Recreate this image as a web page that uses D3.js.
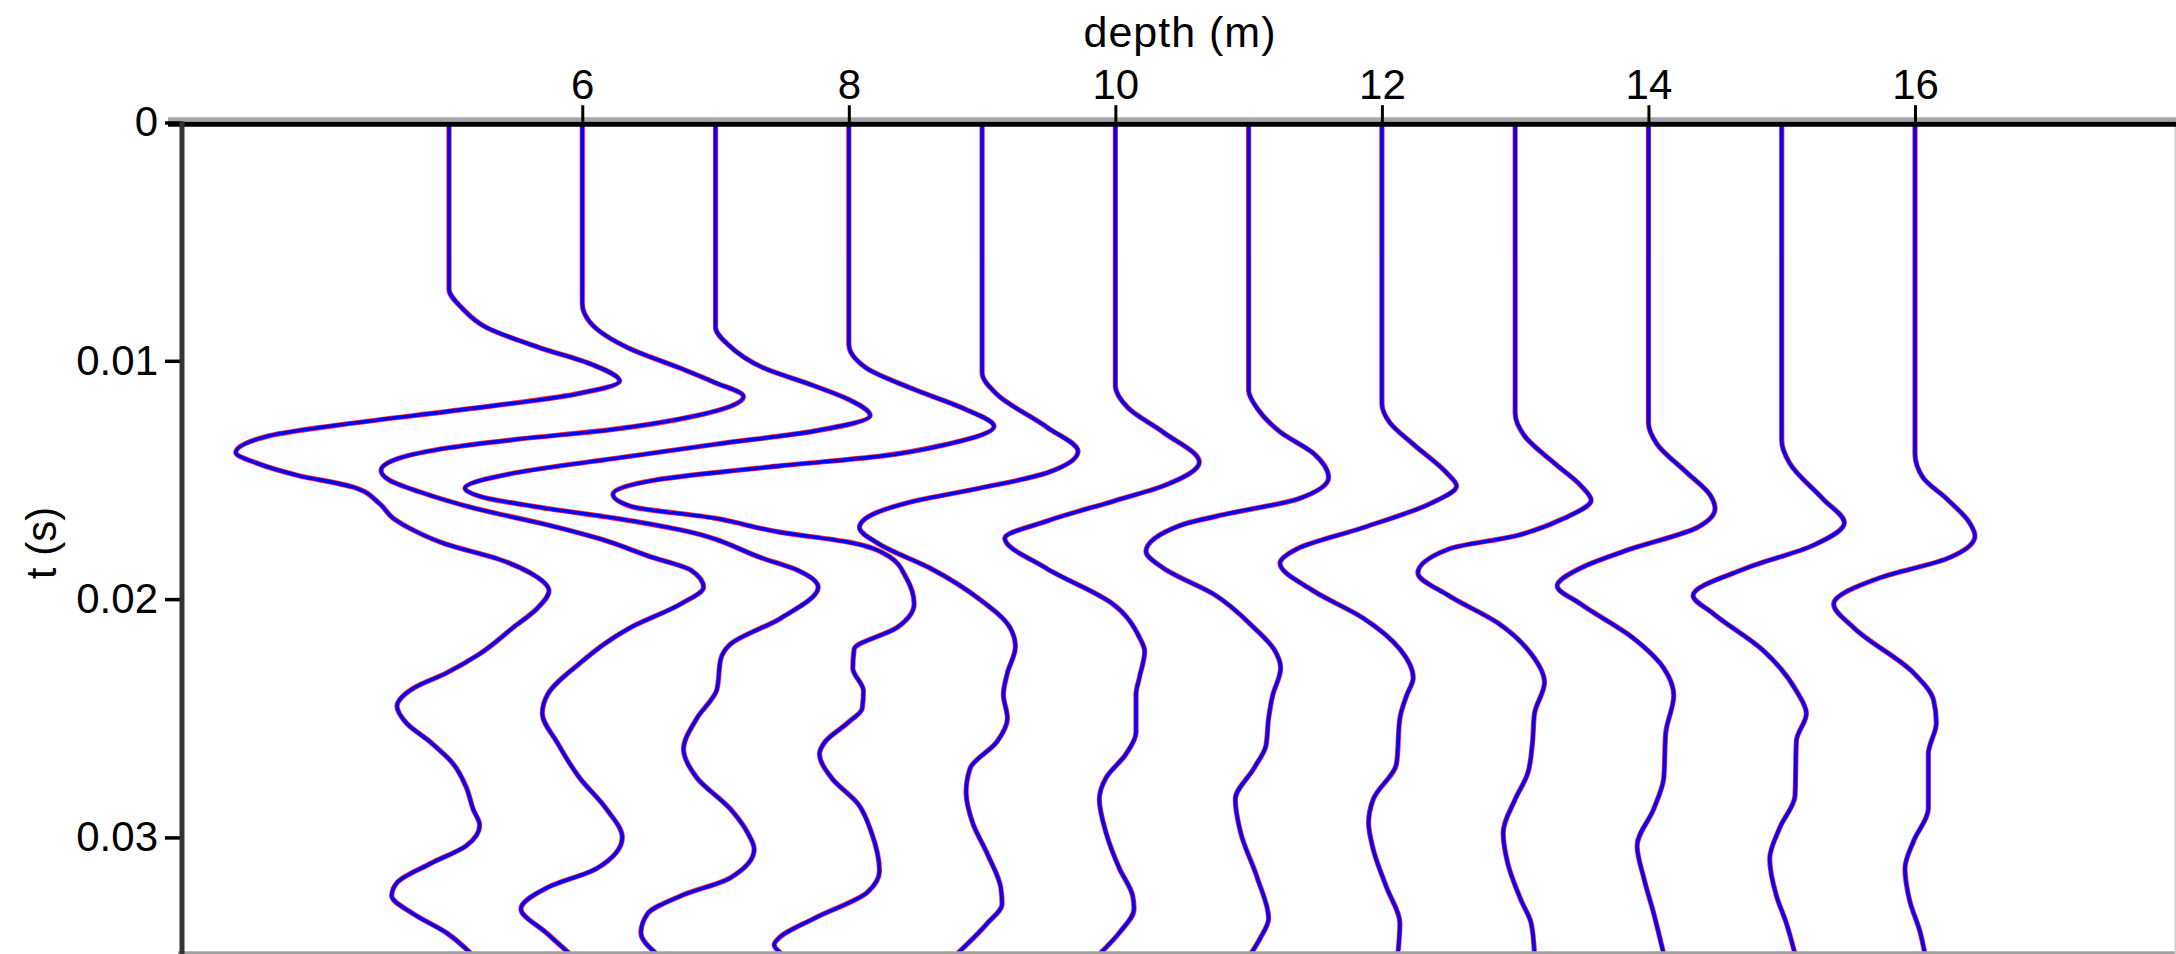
<!DOCTYPE html>
<html>
<head>
<meta charset="utf-8">
<script src="https://cdnjs.cloudflare.com/ajax/libs/d3/7.8.5/d3.min.js"></script>
<style>
	body { margin: 0; background: #fff; }
	svg text { font-family: "Liberation Sans", Arial, Helvetica, sans-serif; fill: #000; }
</style>
</head>
<body>
<svg id="drawZone" width="2176" height="954"></svg>
<script>
/************************************ Data *******************************/
// depth of each receiver (m)
var depths = [5, 6, 7, 8, 9, 10, 11, 12, 13, 14, 15, 16];

// each trace: [t (ms), amplitude offset in depth units]
var trace05 = [[0,0],[7.0,0],[7.8,0.1],[8.6,0.28],[9.45,0.68],[10.15,1.07],[10.85,1.28],[11.4,0.95],[12.05,0.1],[12.6,-0.7],[13.15,-1.35],[13.85,-1.6],[14.3,-1.44],[14.8,-1.14],[15.3,-0.72],[16.0,-0.52],[16.6,-0.42],[17.1,-0.27],[17.7,-0.02],[18.3,0.36],[18.9,0.61],[19.65,0.75],[20.4,0.66],[21.2,0.48],[22.3,0.23],[23.1,-0.02],[23.75,-0.27],[24.5,-0.39],[25.2,-0.32],[26.0,-0.14],[26.9,0.03],[27.9,0.13],[28.8,0.18],[29.5,0.23],[30.35,0.13],[31.1,-0.14],[31.9,-0.39],[32.45,-0.43],[33.2,-0.27],[34.0,-0.02],[34.9,0.17]];
var trace06 = [[0,0],[7.6,0],[8.4,0.06],[9.5,0.36],[10.3,0.73],[10.9,0.99],[11.5,1.21],[12.3,0.86],[12.9,0.2],[13.3,-0.5],[13.65,-1.0],[14.1,-1.38],[14.6,-1.51],[15.0,-1.45],[15.5,-1.22],[16.2,-0.8],[16.9,-0.25],[17.5,0.15],[18.2,0.5],[18.8,0.82],[19.5,0.91],[20.2,0.74],[21.2,0.36],[22.7,-0.02],[24.0,-0.26],[24.8,-0.3],[26.0,-0.19],[27.5,-0.02],[28.8,0.18],[30.0,0.3],[31.3,0.11],[32.1,-0.26],[33.0,-0.46],[34.0,-0.27],[34.9,-0.09]];
var trace07 = [[0,0],[8.6,0],[9.3,0.09],[10.3,0.36],[11.05,0.74],[11.6,0.99],[12.3,1.16],[12.95,0.74],[13.5,0],[14.1,-0.76],[14.7,-1.5],[15.35,-1.88],[15.7,-1.76],[16.2,-1.26],[16.6,-0.76],[17.1,-0.26],[18.3,0.36],[18.8,0.62],[19.5,0.77],[20.8,0.49],[21.9,0.11],[22.5,0.04],[23.8,0.01],[25.0,-0.14],[26.3,-0.24],[27.5,-0.14],[28.8,0.11],[29.8,0.24],[30.5,0.29],[31.7,0.11],[32.45,-0.26],[33.2,-0.51],[34.0,-0.56],[34.9,-0.44]];
var trace08 = [[0,0],[9.3,0],[10.3,0.13],[11.2,0.49],[12.0,0.86],[12.75,1.09],[13.5,0.74],[14.0,0.24],[14.4,-0.5],[15.0,-1.45],[15.6,-1.77],[16.1,-1.64],[16.6,-1.01],[17.2,-0.51],[17.6,-0.01],[18.2,0.3],[19.1,0.43],[20.2,0.49],[21.2,0.36],[22.1,0.04],[22.9,0.03],[23.85,0.11],[24.6,0.1],[25.2,-0.01],[26.0,-0.18],[26.5,-0.22],[27.5,-0.13],[28.6,0.07],[29.8,0.17],[31.4,0.23],[32.3,0.14],[33.4,-0.26],[34.2,-0.52],[34.5,-0.56],[34.9,-0.5]];
var trace09 = [[0,0],[10.5,0],[11.4,0.11],[12.8,0.49],[13.8,0.72],[14.7,0.49],[15.35,-0.02],[15.9,-0.52],[16.6,-0.87],[17.0,-0.92],[17.7,-0.77],[18.7,-0.39],[20.0,-0.02],[21.2,0.21],[22.0,0.25],[23.1,0.19],[24.0,0.16],[25.0,0.19],[26.0,0.11],[27.1,-0.09],[28.1,-0.12],[29.4,-0.07],[30.7,0.04],[32.1,0.14],[32.8,0.15],[33.6,0.04],[34.9,-0.19]];
var trace10 = [[0,0],[11.05,0],[12.0,0.1],[13.0,0.36],[14.25,0.63],[15.25,0.36],[15.9,-0.02],[16.7,-0.5],[17.45,-0.83],[18.7,-0.52],[20.2,-0.02],[21.6,0.18],[22.2,0.22],[23.3,0.18],[24.0,0.155],[25.6,0.155],[26.5,0.08],[27.5,-0.07],[28.4,-0.12],[29.8,-0.07],[31.3,0.03],[32.45,0.13],[33.0,0.14],[34.0,0.03],[34.9,-0.12]];
var trace11 = [[0,0],[11.25,0],[12.0,0.065],[13.0,0.24],[13.9,0.49],[14.9,0.6],[15.8,0.37],[16.4,-0.14],[16.9,-0.51],[18.0,-0.77],[18.7,-0.64],[19.8,-0.26],[21.2,0.04],[22.1,0.19],[22.9,0.24],[24.05,0.18],[25.0,0.15],[26.15,0.13],[27.1,0.04],[28.4,-0.1],[29.8,-0.06],[31.7,0.065],[33.4,0.15],[34.2,0.09],[34.9,0.015]];
var trace12 = [[0,0],[11.8,0],[12.6,0.06],[13.5,0.235],[14.7,0.485],[15.25,0.56],[16.0,0.36],[17.0,-0.14],[17.9,-0.64],[18.5,-0.765],[19.65,-0.515],[20.8,-0.14],[22.1,0.135],[23.3,0.235],[24.05,0.185],[25.0,0.135],[26.9,0.11],[28.4,-0.065],[29.4,-0.1],[30.5,-0.065],[32.1,0.035],[33.6,0.135],[34.9,0.12]];
var trace13 = [[0,0],[12.2,0],[13.15,0.07],[14.3,0.295],[15.25,0.495],[15.85,0.57],[16.6,0.37],[17.35,0],[17.9,-0.5],[18.9,-0.73],[19.85,-0.5],[21.0,-0.13],[22.3,0.12],[23.5,0.22],[24.8,0.145],[26.0,0.13],[27.3,0.095],[28.4,0],[29.8,-0.09],[31.1,-0.055],[32.65,0.045],[33.6,0.12],[34.9,0.145]];
var trace14 = [[0,0],[12.6,0],[13.5,0.065],[14.7,0.29],[15.65,0.465],[16.2,0.5],[17.0,0.365],[17.9,-0.135],[18.7,-0.51],[19.45,-0.685],[20.2,-0.51],[21.55,-0.135],[22.9,0.115],[24.05,0.19],[25.6,0.13],[27.5,0.115],[28.8,0.04],[30.35,-0.085],[31.7,-0.035],[33.2,0.04],[34.9,0.115]];
var trace15 = [[0,0],[13.35,0],[14.3,0.06],[15.8,0.31],[16.8,0.47],[17.75,0.235],[18.7,-0.265],[19.85,-0.665],[20.6,-0.515],[22.15,-0.14],[23.85,0.11],[24.8,0.185],[25.95,0.11],[28.25,0.1],[29.6,-0.015],[30.9,-0.09],[32.45,-0.04],[33.6,0.035],[34.9,0.1]];
var trace16 = [[0,0],[13.9,0],[14.9,0.06],[15.8,0.24],[16.8,0.41],[17.35,0.45],[18.3,0.24],[19.1,-0.26],[20.2,-0.61],[21.2,-0.46],[23.1,-0.01],[24.25,0.14],[25.2,0.16],[26.5,0.1],[28.8,0.1],[30.15,-0.01],[31.3,-0.075],[32.65,-0.04],[34.0,0.04],[34.9,0.075]];

var traces = [trace05, trace06, trace07, trace08, trace09, trace10, trace11, trace12, trace13, trace14, trace15, trace16];

var xTicks = [6, 8, 10, 12, 14, 16];
var yTicks = [0, 0.01, 0.02, 0.03];
var yTickLabels = ["0", "0.01", "0.02", "0.03"];

/************************************ Scales *******************************/
var plot = {left: 181, right: 2175, top: 122.5, bottom: 951.8};

var x = d3.scaleLinear().domain([2.989, 17.951]).range([plot.left, plot.right]);
var y = d3.scaleLinear().domain([0, 0.0348]).range([plot.top, plot.bottom]);

var svg = d3.select("#drawZone");

svg.append("clipPath").attr("id", "plotClip")
	.append("rect")
		.attr("x", plot.left).attr("y", plot.top)
		.attr("width", plot.right - plot.left)
		.attr("height", plot.bottom - plot.top);

/************************************ Traces *******************************/
var gTraces = svg.append("g").attr("clip-path", "url(#plotClip)");

depths.forEach(function(dep, i) {
	var line = d3.line()
		.x(function(d) { return x(dep + d[1]); })
		.y(function(d) { return y(d[0] / 1000); })
		.curve(d3.curveMonotoneY);

	// observed (red) under modelled (blue)
	gTraces.append("path")
		.attr("d", line(traces[i]))
		.attr("fill", "none")
		.attr("stroke", "#ff0000")
		.attr("stroke-opacity", 0.85)
		.attr("stroke-width", 5.2);
	gTraces.append("path")
		.attr("d", line(traces[i]))
		.attr("fill", "none")
		.attr("stroke", "#0000ff")
		.attr("stroke-width", 3.6);
});

/************************************ Frame *******************************/
// light bottom and right edges
svg.append("line")
	.attr("x1", plot.left - 3).attr("x2", 2176)
	.attr("y1", 952.8).attr("y2", 952.8)
	.attr("stroke", "#a0a0a0").attr("stroke-width", 3);
svg.append("line")
	.attr("x1", 2175.3).attr("x2", 2175.3)
	.attr("y1", plot.top).attr("y2", 954)
	.attr("stroke", "#cfcfcf").attr("stroke-width", 1.5);

// grey shade above the top axis line
svg.append("line")
	.attr("x1", 168).attr("x2", 2176)
	.attr("y1", 119.5).attr("y2", 119.5)
	.attr("stroke", "#a8a8a8").attr("stroke-width", 4.4);

/************************************ Axes *******************************/
var xAxis = d3.axisTop(x)
	.tickValues(xTicks)
	.tickSize(19)
	.tickSizeOuter(0)
	.tickPadding(6);

var gx = svg.append("g")
	.attr("transform", "translate(0,124.2)")
	.call(xAxis);
gx.select(".domain").remove();
gx.append("line")
	.attr("x1", 168).attr("x2", 2176)
	.attr("y1", 0).attr("y2", 0)
	.attr("stroke", "#000").attr("stroke-width", 5);
gx.selectAll(".tick line").attr("stroke", "#000").attr("stroke-width", 3);
gx.selectAll(".tick text")
	.attr("font-size", 42)
	.attr("font-family", "Liberation Sans, Arial, sans-serif")
	.attr("fill", "#000");

var yAxis = d3.axisLeft(y)
	.tickValues(yTicks)
	.tickFormat(function(d, i) { return yTickLabels[i]; })
	.tickSize(17)
	.tickSizeOuter(0)
	.tickPadding(7);

var gy = svg.append("g")
	.attr("transform", "translate(182,0)")
	.call(yAxis);
gy.select(".domain").remove();
gy.append("line")
	.attr("x1", 0).attr("x2", 0)
	.attr("y1", plot.top - 1).attr("y2", 954)
	.attr("stroke", "#333").attr("stroke-width", 5);
gy.selectAll(".tick line").attr("stroke", "#000").attr("stroke-width", 3.5);
gy.selectAll(".tick text")
	.attr("font-size", 42)
	.attr("font-family", "Liberation Sans, Arial, sans-serif")
	.attr("fill", "#000");

/************************************ Labels *******************************/
svg.append("text")
	.attr("x", 1180).attr("y", 47)
	.attr("text-anchor", "middle")
	.attr("font-size", 43)
	.attr("letter-spacing", 1)
	.text("depth (m)");

svg.append("text")
	.attr("transform", "translate(56,543) rotate(-90)")
	.attr("text-anchor", "middle")
	.attr("font-size", 42)
	.text("t (s)");
</script>
</body>
</html>
